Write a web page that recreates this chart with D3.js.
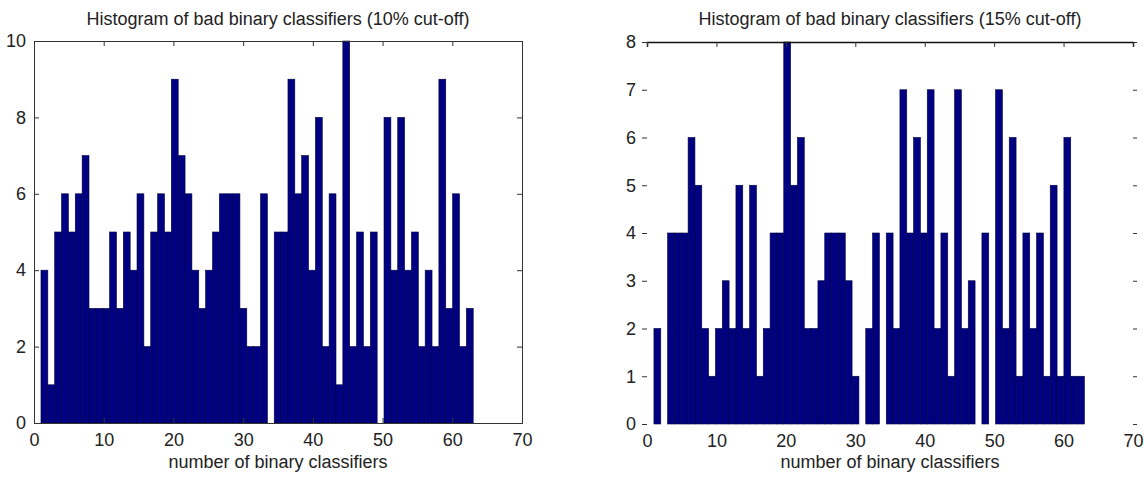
<!DOCTYPE html>
<html>
<head>
<meta charset="utf-8">
<script src="https://cdn.jsdelivr.net/npm/d3@7/dist/d3.min.js"></script>
<style>
  body { margin: 0; background: #fff; }
  text { font-family: "Liberation Sans", Arial, sans-serif; fill: #222; }
</style>
</head>
<body>
<svg id="chart" width="1144" height="478"></svg>
<script>
// histogram bins: 63 bins spanning the data range 1..63
const binLo = 1;
const binHi = 63;
const xTicks = [0, 10, 20, 30, 40, 50, 60, 70];
const leftYTicks = [0, 2, 4, 6, 8, 10];
const rightYTicks = [0, 1, 2, 3, 4, 5, 6, 7, 8];

// counts per bin
const leftCounts = [4, 1, 5, 6, 5, 6, 7, 3, 3, 3, 5, 3, 5, 4, 6, 2, 5, 6, 5, 9,
  7, 6, 4, 3, 4, 5, 6, 6, 6, 3, 2, 2, 6, 0, 5, 5, 9, 6, 7, 4,
  8, 2, 6, 1, 10, 2, 5, 2, 5, 0, 8, 4, 8, 4, 5, 2, 4, 2, 9, 3,
  6, 2, 3];
const rightCounts = [2, 0, 4, 4, 4, 6, 5, 2, 1, 2, 3, 2, 5, 2, 5, 1, 2, 4, 4, 8,
  5, 6, 2, 2, 3, 4, 4, 4, 3, 1, 0, 2, 4, 0, 4, 2, 7, 4, 6, 4,
  7, 2, 4, 1, 7, 2, 3, 0, 4, 0, 7, 2, 6, 1, 4, 2, 4, 1, 5, 1,
  6, 1, 1];

const leftTitle = "Histogram of bad binary classifiers (10% cut-off)";
const rightTitle = "Histogram of bad binary classifiers (15% cut-off)";
const xLabel = "number of binary classifiers";

const svg = d3.select("#chart");
svg.append("rect").attr("width", 1144).attr("height", 478).attr("fill", "#fff");

function drawPanel(p) {
  const x = d3.scaleLinear().domain([0, 70]).range([p.left, p.right]);
  const y = d3.scaleLinear().domain([0, p.yMax]).range([p.bottom, p.top]);
  const g = svg.append("g");
  const w = (binHi - binLo) / p.counts.length;

  // bars
  g.selectAll("rect.bar")
    .data(p.counts)
    .enter()
    .append("rect")
    .attr("class", "bar")
    .attr("x", (d, i) => x(binLo + i * w))
    .attr("width", (d, i) => x(binLo + (i + 1) * w) - x(binLo + i * w))
    .attr("y", d => y(d))
    .attr("height", d => y(0) - y(d))
    .attr("fill", "#000080")
    .attr("stroke", "#000040")
    .attr("stroke-width", 0.6);

  // x axis
  const xa = g.append("g")
    .attr("transform", "translate(0," + p.bottom + ")")
    .call(d3.axisBottom(x).tickValues(xTicks).tickSize(p.frame ? -5 : 0).tickPadding(10));
  // y axis
  const ya = g.append("g")
    .attr("transform", "translate(" + p.left + ",0)")
    .call(d3.axisLeft(y).tickValues(p.yTicks).tickSize(p.frame ? -5 : 5).tickPadding(p.frame ? 8 : 6));
  // top / right ticks
  const ta = g.append("g")
    .attr("transform", "translate(0," + p.top + ")")
    .call(d3.axisTop(x).tickValues(xTicks).tickSize(-5).tickFormat(""));
  const ra = g.append("g")
    .attr("transform", "translate(" + p.right + ",0)")
    .call(d3.axisRight(y).tickValues(p.yTicks).tickSize(p.frame ? -5 : 4).tickFormat(""));

  [xa, ya, ta, ra].forEach(a => {
    a.selectAll("text").style("font-size", "18px").style("font-family", "'Liberation Sans', Arial, sans-serif").attr("fill", "#222");
    a.selectAll("line").attr("stroke", "#333");
    a.select(".domain").attr("stroke", "#333");
  });
  if (!p.frame) {
    xa.select(".domain").remove();
    ya.select(".domain").remove();
    ra.select(".domain").remove();
    ta.select(".domain").attr("stroke", "#111").attr("stroke-width", 1.5);
  }

  g.append("text")
    .attr("x", (p.left + p.right) / 2)
    .attr("y", 25)
    .attr("text-anchor", "middle")
    .style("font-size", "18px")
    .text(p.title);

  g.append("text")
    .attr("x", (p.left + p.right) / 2)
    .attr("y", 468)
    .attr("text-anchor", "middle")
    .style("font-size", "18px")
    .text(xLabel);
}

drawPanel({left: 34, right: 522, top: 41, bottom: 423, yMax: 10, yTicks: leftYTicks,
  counts: leftCounts, title: leftTitle, frame: true});
drawPanel({left: 647, right: 1133, top: 42, bottom: 424, yMax: 8, yTicks: rightYTicks,
  counts: rightCounts, title: rightTitle, frame: false});
</script>
</body>
</html>
